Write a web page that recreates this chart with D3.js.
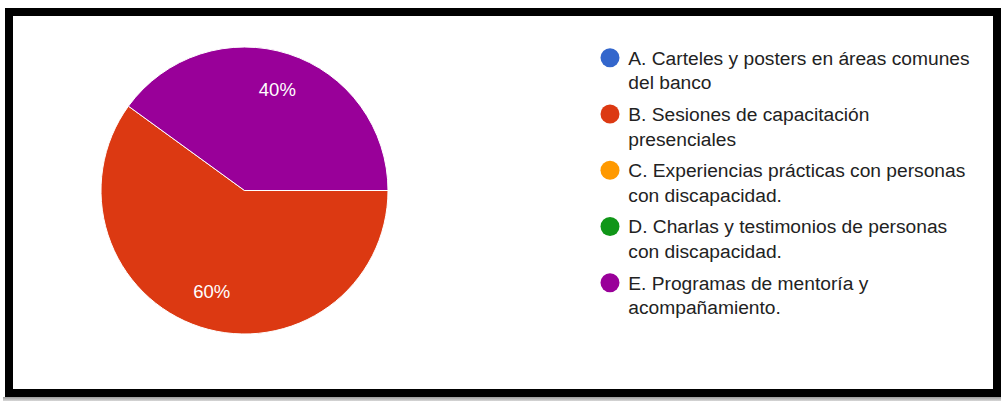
<!DOCTYPE html>
<html>
<head>
<meta charset="utf-8">
<script src="https://cdn.jsdelivr.net/npm/d3@7"></script>
<style>
  html, body { margin: 0; padding: 0; background: #fff; }
  svg { display: block; }
  text { font-family: "Liberation Sans", Arial, sans-serif; }
</style>
</head>
<body>
<svg id="chart" width="1001" height="401"></svg>
<script>
// Survey answers: which awareness activity is preferred
const categories = [
  "A. Carteles y posters en áreas comunes\ndel banco",
  "B. Sesiones de capacitación\npresenciales",
  "C. Experiencias prácticas con personas\ncon discapacidad.",
  "D. Charlas y testimonios de personas\ncon discapacidad.",
  "E. Programas de mentoría y\nacompañamiento."
];
const responses = [0, 3, 0, 0, 2];
const colors = ["#3366cc", "#dc3912", "#ff9900", "#109618", "#990099"];

const W = 1001, H = 401;
const svg = d3.select("#chart");

// soft shadow under the frame
const defs = svg.append("defs");
const grad = defs.append("linearGradient").attr("id", "shade")
  .attr("x1", 0).attr("y1", 0).attr("x2", 0).attr("y2", 1);
grad.append("stop").attr("offset", "0%").attr("stop-color", "#9a9a9a");
grad.append("stop").attr("offset", "100%").attr("stop-color", "#d8d8d8");
svg.append("rect").attr("x", 3).attr("y", 397).attr("width", W - 3).attr("height", 4)
  .attr("fill", "url(#shade)");

// framed panel
svg.append("rect")
  .attr("x", 9).attr("y", 12).attr("width", 988).attr("height", 381)
  .attr("fill", "#fff").attr("stroke", "#000").attr("stroke-width", 8);

// pie
const cx = 244.5, cy = 190.5, radius = 143.5;
const total = d3.sum(responses);
const pie = d3.pie().sort(null).value(d => d)
  .startAngle(Math.PI / 2).endAngle(Math.PI / 2 + 2 * Math.PI);
const arcs = pie(responses);
const arc = d3.arc().innerRadius(0).outerRadius(radius);
const labelArc = d3.arc().innerRadius(radius * 0.74).outerRadius(radius * 0.74);

const g = svg.append("g").attr("transform", `translate(${cx},${cy})`);
g.selectAll("path.slice")
  .data(arcs.filter(a => a.value > 0))
  .join("path")
  .attr("class", "slice")
  .attr("d", arc)
  .attr("fill", d => colors[d.index])
  .attr("stroke", "#fff")
  .attr("stroke-width", 1);

g.selectAll("text.pct")
  .data(arcs.filter(a => a.value > 0))
  .join("text")
  .attr("class", "pct")
  .attr("transform", d => `translate(${labelArc.centroid(d)})`)
  .attr("text-anchor", "middle")
  .attr("dy", "0.36em")
  .attr("fill", "#fff")
  .attr("font-size", 18.5)
  .text(d => d3.format(".0%")(d.value / total));

// legend
const legendX = 610, legendY0 = 57.7, itemStep = 56.25, lineStep = 25;
const legend = svg.append("g");
const items = legend.selectAll("g.item")
  .data(categories)
  .join("g")
  .attr("class", "item")
  .attr("transform", (d, i) => `translate(${legendX},${legendY0 + i * itemStep})`);

items.append("circle")
  .attr("r", 9.5)
  .attr("fill", (d, i) => colors[i]);

items.append("text")
  .attr("x", 18.3)
  .attr("y", 6.8)
  .attr("fill", "#222")
  .attr("font-size", 19.2)
  .selectAll("tspan")
  .data(d => d.split("\n"))
  .join("tspan")
  .attr("x", 18.3)
  .attr("dy", (d, j) => j === 0 ? 0 : lineStep)
  .text(d => d);
</script>
</body>
</html>
